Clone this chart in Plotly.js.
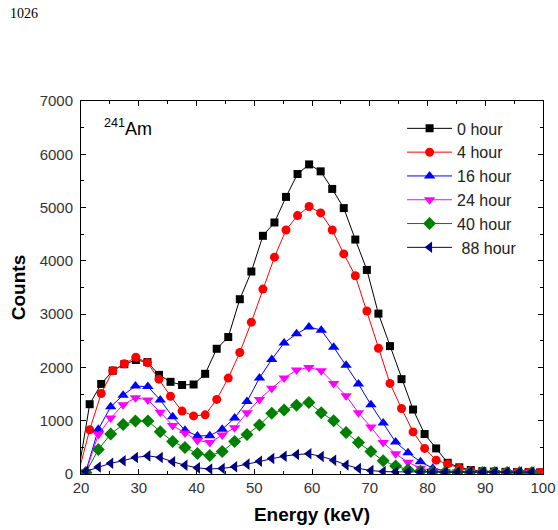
<!DOCTYPE html>
<html>
<head>
<meta charset="utf-8">
<script src="https://cdn.plot.ly/plotly-3.0.1.min.js"></script>
<style>html,body{margin:0;padding:0;background:#fff;}#chart{width:558px;height:530px;}</style>
</head>
<body>
<div id="chart"></div>
<script>
// Energy channels (keV)
const energyA = [19.5,21.5,23.5,25.5,27.5,29.5,31.5,33.5,35.5,37.5,39.5,41.5,43.5,45.5,47.5,49.5,51.5,53.5,55.5,57.5,59.5,61.5,63.5,65.5,67.5,69.5,71.5,73.5,75.5,77.5,79.5,81.5,83.5,85.5,87.5,89.5,91.5,93.5,95.5,97.5,99.5];
const energyB = [20.85,23.0,25.14,27.29,29.43,31.58,33.72,35.87,38.0,40.16,42.3,44.45,46.6,48.74,50.9,53.03,55.17,57.32,59.46,61.6,63.75,65.9,68.04,70.2,72.33,74.48,76.62,78.77,80.9,83.06,85.2,87.35,89.5,91.64,93.78,95.93,98.07];

const seriesNames = ['0 hour','4 hour','16 hour','24 hour','40 hour','\u00a088 hour'];

const counts0h  = [0,1310,1690,1940,2060,2140,2100,1860,1730,1670,1680,1880,2350,2570,3280,3800,4470,4720,5200,5630,5810,5680,5350,4990,4400,3830,3010,2400,1780,1210,750,480,210,125,75,55,45,40,35,35,30];
const counts4h  = [0,830,1510,1940,2070,2190,2090,1780,1460,1180,1090,1110,1400,1800,2280,2850,3470,4070,4580,4850,5020,4900,4580,4130,3720,3060,2360,1700,1230,790,480,260,190,110,60,50,40,35,30,30,30];
const counts16h = [50,840,1260,1480,1650,1640,1390,1075,820,715,720,840,1050,1360,1800,2150,2460,2630,2760,2700,2380,2040,1690,1300,955,600,400,230,110,60,45,40,35,35,30,30,30];
const counts24h = [40,740,1050,1300,1430,1390,1160,910,770,630,590,730,870,1150,1400,1610,1800,1950,2000,1940,1700,1470,1150,880,590,380,220,110,60,45,40,35,35,30,30,30,30];
const counts40h = [30,460,750,930,995,995,795,610,495,385,345,420,610,740,920,1140,1200,1290,1340,1150,1000,780,590,420,250,150,80,50,40,35,35,30,30,30,30,30,30];
const counts88h = [50,130,200,250,310,340,310,230,165,115,95,105,135,185,240,290,335,365,380,330,260,170,105,65,45,40,40,35,35,35,35,35,35,35,35,35,35];

const xTicks = [20,30,40,50,60,70,80,90,100];
const yTicks = [0,1000,2000,3000,4000,5000,6000,7000];

const styles = [
  {x: energyA, y: counts0h,  color:'#000000', symbol:'square', size:8},
  {x: energyA, y: counts4h,  color:'#ff0000', symbol:'circle', size:9},
  {x: energyB, y: counts16h, color:'#0000ff', symbol:'triangle-up', size:10},
  {x: energyB, y: counts24h, color:'#ff00ff', symbol:'triangle-down', size:10},
  {x: energyB, y: counts40h, color:'#008000', symbol:'diamond', size:10},
  {x: energyB, y: counts88h, color:'#000080', symbol:'triangle-left', size:10}
];

const traces = styles.map((s, i) => ({
  type:'scatter', mode:'lines+markers', name: seriesNames[i],
  x: s.x, y: s.y,
  line:{color:s.color, width:1},
  marker:{color:s.color, symbol:s.symbol, size:s.size, line:{width:0}}
}));

const fontFam = '"Liberation Sans", Arial, sans-serif';
const axisCommon = {
  showline:true, linecolor:'#000', linewidth:1, mirror:'ticks',
  ticks:'inside', ticklen:5, tickcolor:'#000', tickwidth:1,
  showgrid:false, zeroline:false,
  tickfont:{family:fontFam, size:15, color:'#333'}
};

const layout = {
  width:558, height:530,
  margin:{l:81, r:15, t:101, b:56},
  paper_bgcolor:'#fff', plot_bgcolor:'#fff',
  showlegend:true,
  legend:{x:0.695, y:0.972, xanchor:'left', yanchor:'top', bgcolor:'rgba(0,0,0,0)',
          itemwidth:45,
          font:{family:fontFam, size:16, color:'#222'}, tracegroupgap:0},
  xaxis: Object.assign({}, axisCommon, {
    range:[20,100], tickvals:xTicks, ticktext:xTicks.map(String),
    minor:{dtick:5, ticks:'inside', ticklen:3, tickcolor:'#000'},
    title:{text:'<b>Energy (keV)</b>', font:{family:fontFam, size:19, color:'#000'}, standoff:12}
  }),
  yaxis: Object.assign({}, axisCommon, {
    range:[0,7000], tickvals:yTicks, ticktext:yTicks.map(String),
    ticklabelstandoff:4,
    minor:{dtick:500, ticks:'inside', ticklen:3, tickcolor:'#000'},
    title:{text:'<b>Counts</b>', font:{family:fontFam, size:19, color:'#000'}, standoff:8}
  }),
  annotations:[
    {xref:'paper', yref:'paper', x:0.045, y:0.93, xanchor:'left', yanchor:'middle',
     text:'<sup>241</sup>Am', showarrow:false, font:{family:fontFam, size:18, color:'#000'}},
    {xref:'paper', yref:'paper', x:-0.157, y:1.234, xanchor:'left', yanchor:'middle',
     text:'1026', showarrow:false, font:{family:'"Liberation Serif", "Times New Roman", serif', size:14, color:'#000'}}
  ]
};

Plotly.newPlot('chart', traces, layout, {displayModeBar:false, staticPlot:true});
</script>
</body>
</html>
